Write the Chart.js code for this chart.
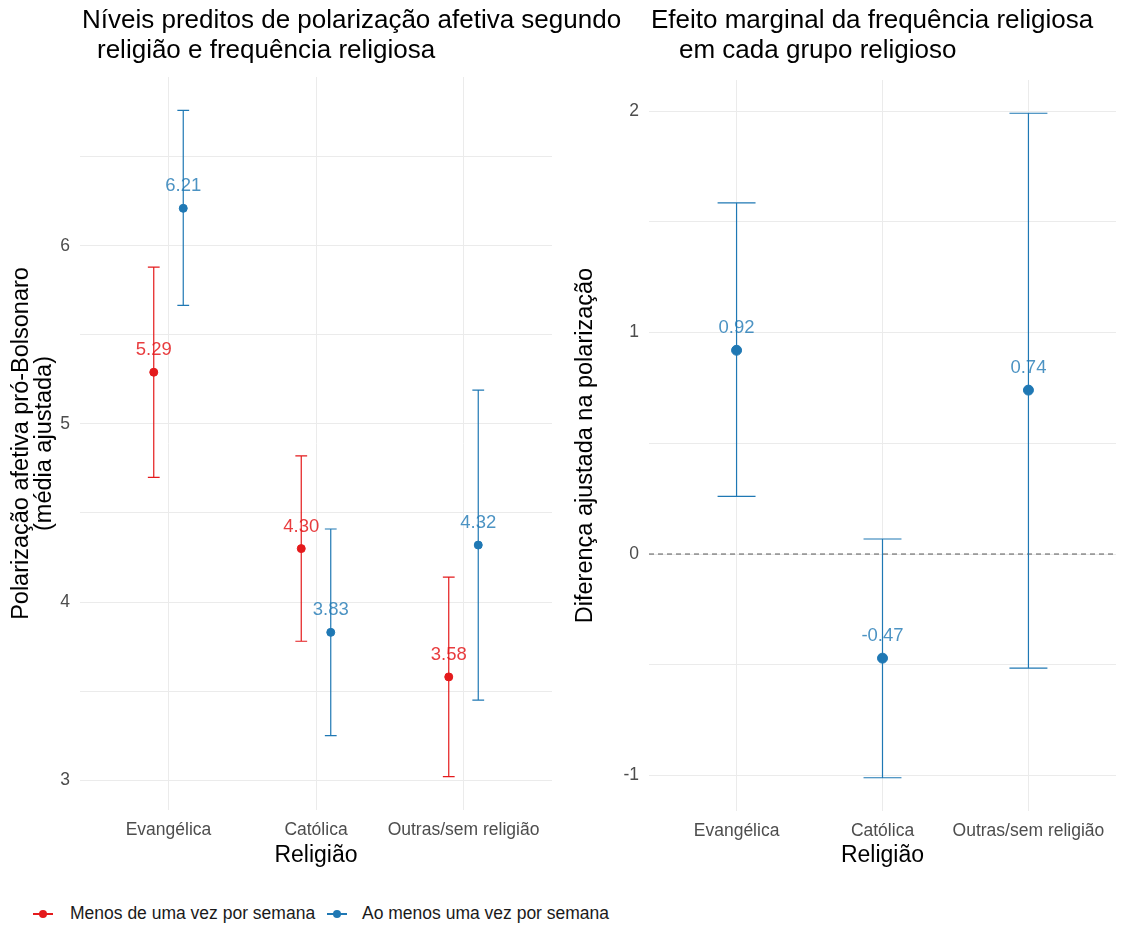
<!DOCTYPE html>
<html><head><meta charset="utf-8">
<script src="https://cdn.jsdelivr.net/npm/chart.js@4.4.1/dist/chart.umd.min.js"></script>
<style>
body{margin:0;background:#fff;width:1122px;height:928px;overflow:hidden;font-family:"Liberation Sans",Arial,sans-serif;}
#c1{position:absolute;left:0;top:0;}
#c2{position:absolute;left:560px;top:0;}
.lg{position:absolute;top:903px;font-size:17.5px;color:#1a1a1a;line-height:21px;white-space:nowrap;}
.mk{position:absolute;top:913px;height:1.5px;width:20px;}
.dot{position:absolute;top:910px;width:8px;height:8px;border-radius:50%;}
</style></head>
<body>
<canvas id="c1" width="640" height="880"></canvas>
<canvas id="c2" width="562" height="880"></canvas>
<div class="mk" style="left:33px;background:#E41A1C"></div><div class="dot" style="left:39px;background:#E41A1C"></div>
<div class="lg" style="left:70px">Menos de uma vez por semana</div>
<div class="mk" style="left:327px;background:#1F78B4"></div><div class="dot" style="left:333px;background:#1F78B4"></div>
<div class="lg" style="left:362px">Ao menos uma vez por semana</div>
<script>
// ---- data ----
const categories = ['Evangélica', 'Católica', 'Outras/sem religião'];
const seriesNames = ['Menos de uma vez por semana', 'Ao menos uma vez por semana'];
const menosMean = [5.29, 4.30, 3.58];
const menosLo   = [4.70, 3.78, 3.02];
const menosHi   = [5.88, 4.82, 4.14];
const aoMean = [6.21, 3.83, 4.32];
const aoLo   = [5.665, 3.25, 3.45];
const aoHi   = [6.76, 4.41, 5.19];
const efeito   = [0.92, -0.47, 0.74];
const efeitoLo = [0.26, -1.01, -0.515];
const efeitoHi = [1.585, 0.068, 1.99];
const leftYTicks = [3, 4, 5, 6];
const rightYTicks = [-1, 0, 1, 2];

const RED = '#E41A1C', BLUE = '#1F78B4';
const RED_TXT = 'rgba(228,26,28,0.85)', BLUE_TXT = 'rgba(31,120,180,0.8)';
const FONT = '"Liberation Sans", Arial, sans-serif';

function pts(mean, lo, hi, off) {
  return mean.map((v, i) => ({ x: i + off, y: v, lo: lo[i], hi: hi[i] }));
}
function range(los, his) {
  const mn = Math.min(...los), mx = Math.max(...his), e = (mx - mn) * 0.05;
  return [mn - e, mx + e];
}

const errPlugin = {
  id: 'err',
  beforeDatasetsDraw(chart, args, o) {
    const ctx = chart.ctx, xs = chart.scales.x, ys = chart.scales.y, ca = chart.chartArea;
    ctx.save();
    if (o.zero) {
      const y0 = ys.getPixelForValue(0);
      ctx.strokeStyle = '#555'; ctx.lineWidth = 1; ctx.setLineDash([5, 4]);
      ctx.beginPath(); ctx.moveTo(ca.left, y0); ctx.lineTo(ca.right, y0); ctx.stroke();
      ctx.setLineDash([]);
    }
    chart.data.datasets.forEach(ds => {
      ctx.strokeStyle = ds.barColor; ctx.lineWidth = o.lw;
      ds.data.forEach(p => {
        const x = xs.getPixelForValue(p.x);
        const xl = xs.getPixelForValue(p.x - o.cap), xr = xs.getPixelForValue(p.x + o.cap);
        const yl = ys.getPixelForValue(p.lo), yh = ys.getPixelForValue(p.hi);
        ctx.beginPath();
        ctx.moveTo(x, yl); ctx.lineTo(x, yh);
        ctx.moveTo(xl, yl); ctx.lineTo(xr, yl);
        ctx.moveTo(xl, yh); ctx.lineTo(xr, yh);
        ctx.stroke();
      });
    });
    ctx.restore();
  },
  afterDatasetsDraw(chart, args, o) {
    const ctx = chart.ctx, xs = chart.scales.x, ys = chart.scales.y;
    ctx.save();
    ctx.font = '18.5px ' + FONT; ctx.textAlign = 'center'; ctx.textBaseline = 'middle';
    chart.data.datasets.forEach(ds => {
      ctx.fillStyle = ds.textColor;
      ds.data.forEach(p => {
        ctx.fillText(p.y.toFixed(2), xs.getPixelForValue(p.x), ys.getPixelForValue(p.y) - 22);
      });
    });
    ctx.restore();
  },
  afterDraw(chart, args, o) {
    const ctx = chart.ctx, ca = chart.chartArea;
    ctx.save();
    ctx.fillStyle = '#000'; ctx.textBaseline = 'middle';
    ctx.font = '26px ' + FONT; ctx.textAlign = 'left';
    ctx.fillText(o.title[0], o.tx, 21);
    ctx.fillText(o.title[1], o.tx + o.indent, 51);
    ctx.font = '23px ' + FONT; ctx.textAlign = 'center';
    ctx.fillText('Religião', (ca.left + ca.right) / 2, 856);
    const cy = (ca.top + ca.bottom) / 2;
    ctx.font = '23.5px ' + FONT;
    o.ytitle.forEach((t, i) => {
      ctx.save(); ctx.translate(o.yx[i], cy); ctx.rotate(-Math.PI / 2);
      ctx.fillText(t, 0, 0); ctx.restore();
    });
    ctx.restore();
  }
};

function makeOpts(yr, yTicks, W, H, pad, plug) {
  return {
    responsive: false, animation: false,
    layout: { padding: pad },
    plugins: { legend: { display: false }, tooltip: { enabled: false }, err: plug },
    scales: {
      x: {
        type: 'linear', min: -0.6, max: 2.6,
        afterFit: s => { s.height = H; },
        border: { display: false },
        grid: { color: '#EBEBEB', lineWidth: 1, drawTicks: false },
        ticks: { stepSize: 1, includeBounds: false, padding: 10, color: '#4D4D4D', font: { family: FONT, size: 17.5 },
          callback: v => (Number.isInteger(v) && categories[v] !== undefined) ? categories[v] : '' }
      },
      y: {
        type: 'linear', min: yr[0], max: yr[1],
        afterFit: s => { s.width = W; },
        border: { display: false },
        grid: { color: '#EBEBEB', lineWidth: 1, drawTicks: false },
        ticks: { stepSize: 0.5, includeBounds: false, padding: 10, color: '#4D4D4D', font: { family: FONT, size: 17.5 },
          callback: v => yTicks.includes(v) ? String(v) : '' }
      }
    }
  };
}

new Chart(document.getElementById('c1'), {
  type: 'scatter',
  data: { datasets: [
    { label: seriesNames[0], data: pts(menosMean, menosLo, menosHi, -0.1), backgroundColor: RED, borderColor: RED,
      pointRadius: 4, barColor: RED, textColor: RED_TXT },
    { label: seriesNames[1], data: pts(aoMean, aoLo, aoHi, 0.1), backgroundColor: BLUE, borderColor: BLUE,
      pointRadius: 4, barColor: BLUE, textColor: BLUE_TXT }
  ] },
  options: makeOpts(range(menosLo.concat(aoLo), menosHi.concat(aoHi)), leftYTicks, 80, 70,
    { top: 77, right: 88, left: 0, bottom: 0 },
    { cap: 0.04, lw: 1.2, zero: false,
      title: ['Níveis preditos de polarização afetiva segundo', 'religião e frequência religiosa'], tx: 82, indent: 15,
      ytitle: ['Polarização afetiva pró-Bolsonaro', '(média ajustada)'], yx: [22, 45] }),
  plugins: [errPlugin]
});

new Chart(document.getElementById('c2'), {
  type: 'scatter',
  data: { datasets: [
    { label: 'Efeito marginal', data: pts(efeito, efeitoLo, efeitoHi, 0), backgroundColor: BLUE, borderColor: BLUE,
      pointRadius: 5, barColor: BLUE, textColor: BLUE_TXT }
  ] },
  options: makeOpts(range(efeitoLo, efeitoHi), rightYTicks, 89, 69,
    { top: 80, right: 3, left: 0, bottom: 0 },
    { cap: 0.13, lw: 1.2, zero: true,
      title: ['Efeito marginal da frequência religiosa', 'em cada grupo religioso'], tx: 91, indent: 28,
      ytitle: ['Diferença ajustada na polarização'], yx: [26] }),
  plugins: [errPlugin]
});
</script>
</body></html>
